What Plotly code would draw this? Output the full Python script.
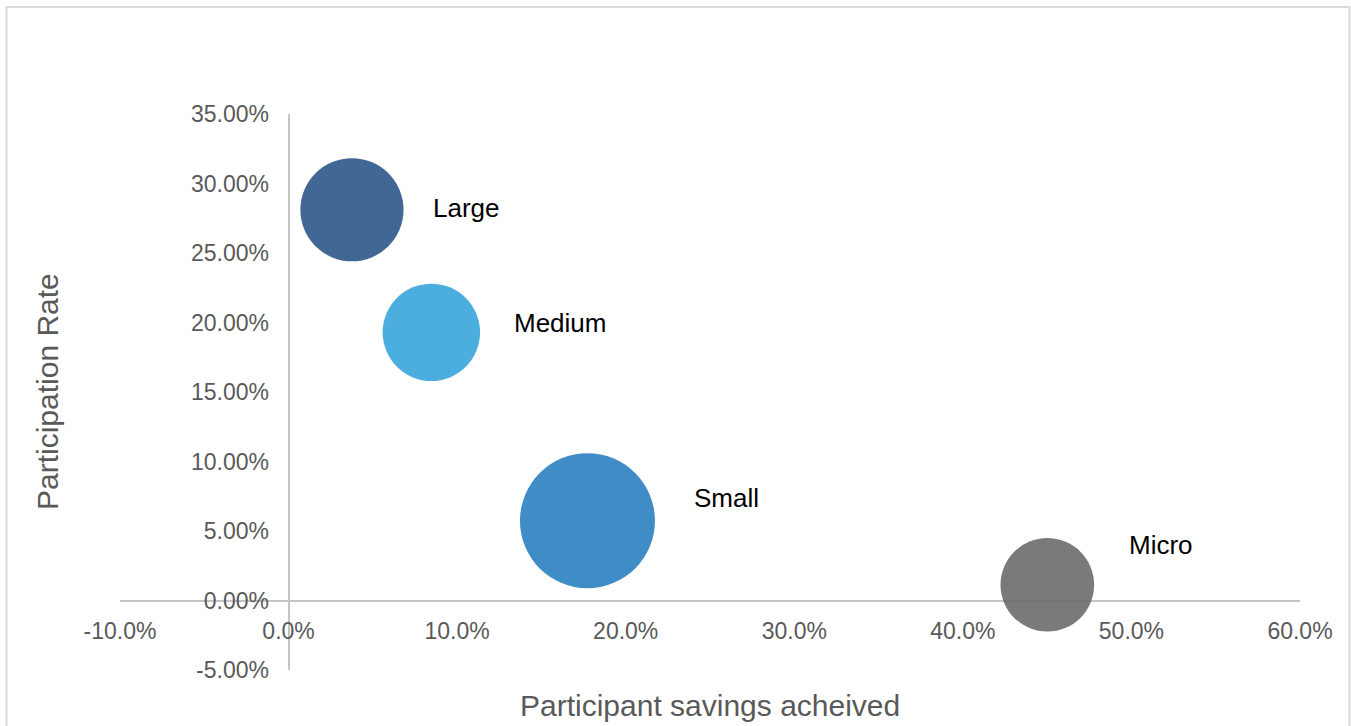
import plotly.graph_objects as go

# ---- data ----
categories = ["Large", "Medium", "Small", "Micro"]
savings = [0.0376, 0.0847, 0.1773, 0.4501]          # x: Participant savings achieved
participation = [0.2811, 0.1929, 0.0574, 0.0113]    # y: Participation Rate
bubble_size = [58.4, 52.1, 100.0, 48.1]             # relative bubble size (area)

x_ticks = [-0.1, 0.0, 0.1, 0.2, 0.3, 0.4, 0.5, 0.6]
x_tick_labels = ["-10.0%", "0.0%", "10.0%", "20.0%", "30.0%", "40.0%", "50.0%", "60.0%"]
y_ticks = [-0.05, 0.0, 0.05, 0.10, 0.15, 0.20, 0.25, 0.30, 0.35]
y_tick_labels = ["-5.00%", "0.00%", "5.00%", "10.00%", "15.00%", "20.00%", "25.00%", "30.00%", "35.00%"]

x_range = [-0.1, 0.6]
y_range = [-0.05, 0.35]

colors = ["#2D5688", "#39A5DC", "#2A80C1", "#6B6B6B"]
label_dx = [79, 81, 105, 80]
label_dy = [2, 9, 23, 40]

W, H = 1351, 726
ML = 120
MT = 114
MR = 1351 - 1300
PB = 670                       # bottom of plot area in figure px
MB = H - PB
max_diam = 135
sizeref = 2.0 * max(bubble_size) / (max_diam ** 2)

FONT = "Liberation Sans, Arial, sans-serif"
GRAY = "#595959"

fig = go.Figure()
for i, c in enumerate(categories):
    fig.add_trace(go.Scatter(
        x=[savings[i]], y=[participation[i]], mode="markers", name=c,
        marker=dict(size=[bubble_size[i]], sizemode="area", sizeref=sizeref,
                    color=colors[i], opacity=0.9, line=dict(width=0)),
        showlegend=False, hoverinfo="x+y+name",
    ))
    fig.add_annotation(x=savings[i], y=participation[i], text=c, showarrow=False,
                       xanchor="left", yanchor="middle", xshift=label_dx[i], yshift=label_dy[i],
                       font=dict(family=FONT, size=26, color="#000000"))

xpos = (0 - y_range[0]) / (y_range[1] - y_range[0])
ypos = (0 - x_range[0]) / (x_range[1] - x_range[0])

fig.update_layout(
    width=W, height=H,
    margin=dict(l=ML, r=MR, t=MT, b=MB, pad=0),
    paper_bgcolor="white", plot_bgcolor="white",
    xaxis=dict(range=x_range, tickvals=x_ticks, ticktext=x_tick_labels,
               showgrid=False, zeroline=False, showline=True,
               linecolor="#C4C4C4", linewidth=2, anchor="free", position=xpos,
               ticks="", ticklabelstandoff=10, layer="below traces",
               tickfont=dict(family=FONT, size=23, color=GRAY)),
    yaxis=dict(range=y_range, tickvals=y_ticks, ticktext=y_tick_labels,
               showgrid=False, zeroline=False, showline=True,
               linecolor="#C4C4C4", linewidth=2, anchor="free", position=ypos,
               ticks="", ticklabelstandoff=14, layer="below traces",
               tickfont=dict(family=FONT, size=23, color=GRAY)),
)

pw, ph = W - ML - MR, H - MT - MB

def py(ref_y):
    return (PB - ref_y) / ph

def px(ref_x):
    return (ref_x - ML) / pw

# axis titles
fig.add_annotation(xref="paper", yref="paper", x=0.5, y=py(705),
                   text="Participant savings acheived", showarrow=False,
                   xanchor="center", yanchor="middle",
                   font=dict(family=FONT, size=30, color=GRAY))
fig.add_annotation(xref="paper", yref="paper", x=px(47), y=0.5,
                   text="Participation Rate", showarrow=False, textangle=-90,
                   xanchor="center", yanchor="middle",
                   font=dict(family=FONT, size=30, color=GRAY))

# chart border
fig.add_shape(type="rect", xref="paper", yref="paper",
              x0=px(6.5), x1=px(1349.5), y0=py(760), y1=py(7),
              line=dict(color="#D9D9D9", width=2), fillcolor="rgba(0,0,0,0)", layer="below")

fig.write_html("out.html", config={"displayModeBar": False},
               post_script="document.body.style.margin='0px';")
